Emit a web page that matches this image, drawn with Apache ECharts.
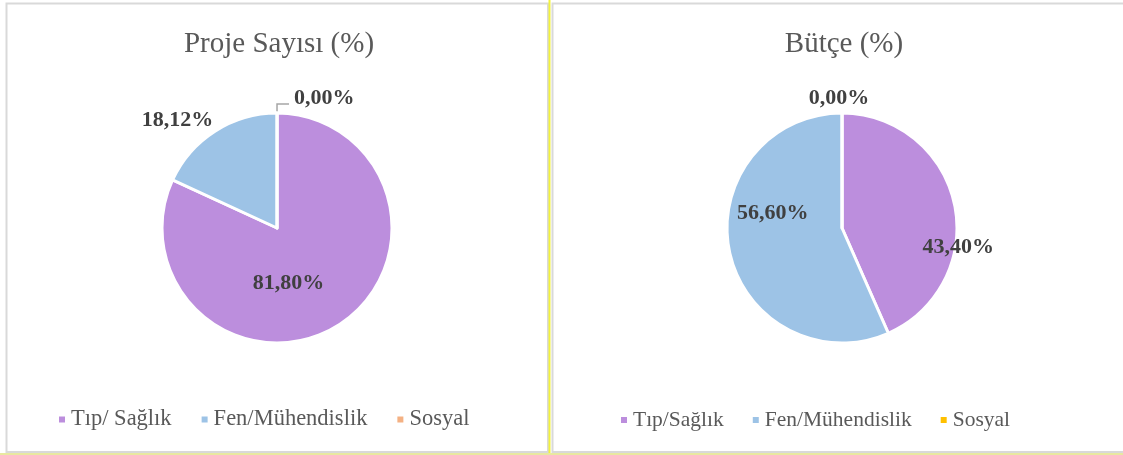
<!DOCTYPE html>
<html>
<head>
<meta charset="utf-8">
<script src="https://cdn.jsdelivr.net/npm/echarts@6/dist/echarts.min.js"></script>
<style>
  html, body { margin: 0; padding: 0; background: #fff; }
  #chart { width: 1123px; height: 455px; }
</style>
</head>
<body>
<div id="chart"></div>
<script>
// data
const projeCategories = ['Tıp/ Sağlık', 'Fen/Mühendislik', 'Sosyal']
const projeValues = [81.80, 18.12, 0.00]
const butceCategories = ['Tıp/Sağlık', 'Fen/Mühendislik', 'Sosyal']
const butceValues = [43.40, 56.60, 0.00]
const titles = ['Proje Sayısı (%)', 'Bütçe (%)']

const projeColors = ['#BC8EDD', '#9DC3E6', '#F4B183']
const butceColors = ['#BC8EDD', '#9DC3E6', '#FFC000']
const serif = '"Liberation Serif", "Times New Roman", serif'

const fmt = p => p.value.toFixed(2).replace('.', ',') + '%'

const labelStyle = {
  fontFamily: serif,
  fontWeight: 'bold',
  fontSize: 22,
  color: '#404040',
  formatter: fmt
}

function buildData(cats, vals, colors, positions, lineIdx) {
  return cats.map((name, i) => ({
    name,
    value: vals[i],
    itemStyle: { color: colors[i] },
    label: { position: positions[i] },
    labelLine: { show: i === lineIdx }
  }))
}

function legendData(cats, colors) {
  return cats.map((name, i) => ({ name, itemStyle: { color: colors[i] } }))
}

const chart = echarts.init(document.getElementById('chart'))

const titleText = { fontFamily: serif, fontSize: 29, fontWeight: 'normal', color: '#595959' }

chart.setOption({
  animation: false,
  backgroundColor: '#fff',
  graphic: [
    { type: 'rect', shape: { x: 6.5, y: 3.5, width: 541.5, height: 448.5 }, style: { fill: null, stroke: '#D9D9D9', lineWidth: 2 } },
    { type: 'rect', shape: { x: 552.5, y: 3.5, width: 600, height: 448.5 }, style: { fill: null, stroke: '#D9D9D9', lineWidth: 2 } },
    { type: 'line', shape: { x1: 549.5, y1: 0, x2: 549.5, y2: 455 }, style: { stroke: '#F2F23C', lineWidth: 2 } },
    { type: 'line', shape: { x1: 0, y1: 454, x2: 1123, y2: 454 }, style: { stroke: '#E8E8A0', lineWidth: 2 } }
  ],
  title: [
    { text: titles[0], left: 274, top: 25, textAlign: 'center', textStyle: titleText },
    { text: titles[1], left: 839, top: 25, textAlign: 'center', textStyle: titleText }
  ],
  legend: [
    {
      data: legendData(projeCategories, projeColors), left: 52, top: 403, icon: 'rect',
      itemWidth: 8, itemHeight: 8, itemGap: 28, selectedMode: false,
      textStyle: { fontFamily: serif, fontSize: 22.5, color: '#595959' }
    },
    {
      data: legendData(butceCategories, butceColors), left: 614, top: 404, icon: 'rect',
      itemWidth: 8, itemHeight: 8, itemGap: 27, selectedMode: false,
      textStyle: { fontFamily: serif, fontSize: 21.5, color: '#595959' }
    }
  ],
  series: [
    {
      type: 'pie',
      center: [277, 228],
      radius: 115,
      // a hair under 90 so the empty slice's label falls on the right side
      startAngle: 89.99,
      clockwise: true,
      itemStyle: { borderColor: '#fff', borderWidth: 3 },
      label: labelStyle,
      labelLine: { length: 9, length2: 12, lineStyle: { color: '#A6A6A6', width: 1.5 } },
      data: buildData(projeCategories, projeValues, projeColors, ['inside', 'outside', 'outside'], 2),
      labelLayout: p => [{ dx: -21, dy: 4 }, { dx: 20, dy: -3 }, { dx: 0, dy: -6 }][p.dataIndex]
    },
    {
      type: 'pie',
      center: [842, 228],
      radius: 115,
      startAngle: 90,
      clockwise: true,
      itemStyle: { borderColor: '#fff', borderWidth: 3 },
      label: labelStyle,
      labelLine: { length: 8, length2: 0 },
      data: buildData(butceCategories, butceValues, butceColors, ['inside', 'inside', 'outside'], -1),
      labelLayout: p => [{ dx: 57, dy: 32 }, { dx: -10, dy: -27 }, { dx: 2, dy: -7, align: 'center' }][p.dataIndex]
    }
  ]
})
</script>
</body>
</html>
